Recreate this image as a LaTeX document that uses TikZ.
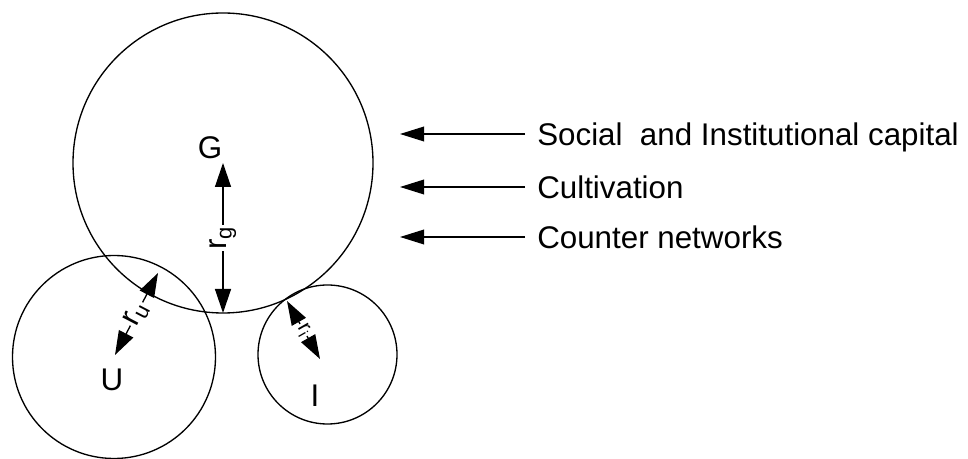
\documentclass[tikz,border=0pt]{standalone}
\usepackage{fontspec}
\setmainfont{Liberation Sans}
\usetikzlibrary{arrows.meta}
\tikzset{
	lbl/.style={inner sep=0pt, text height=16.8pt, text depth=0pt},
	radarrow/.style={{Triangle[length=18pt,width=12pt]}-{Triangle[length=18pt,width=12pt]}, line width=1pt},
	callarrow/.style={-{Triangle[length=18pt,width=11pt]}, line width=1pt},
	rlbl/.style={midway, fill=white, inner sep=1pt}
}
\begin{document}
\begin{tikzpicture}[x=0.75pt, y=-0.75pt, font=\fontsize{23.5}{28}\selectfont, line join=round]
			\useasboundingbox (0,0) rectangle (968,459);
			%	\draw[color=gray!50,dashed] (0,0) grid[step=50] (968,459);
			\coordinate (Gc) at (223,163);
			\coordinate (Uc) at (114,357);
			\coordinate (Ic) at (327.5,354.5);
			\draw[line width=1pt] (Gc) circle (150);
			\draw[line width=1pt] (Uc) circle (101.5);
			\draw[line width=1pt] (Ic) circle (69.5);
			\node[lbl] (G) at (210,147) {G};
			\node[lbl] (U) at (112,379) {U};
			\node[lbl] (I) at (315,395) {I};
			\coordinate (Gb) at (223,313);
			\draw[radarrow] (Gb) -- (Gc) node[rlbl, rotate=90]{r\textsubscript{g}};
			\coordinate (Ua) at (115,355);
			\coordinate (Ub) at (158,273);
			\draw[radarrow] (Ua) -- (Ub) node[rlbl, sloped]{r\textsubscript{u}};
			\coordinate (Ia) at (320,359);
			\coordinate (Ib) at (287,301);
			\draw[radarrow] (Ia) -- (Ib) node[rlbl, sloped, font=\fontsize{16}{18}\selectfont]{r\textsubscript{i}};
			\node[lbl, anchor=west, inner xsep=9pt] (social) at (525,134) {Social\ \ and Institutional capital};
			\node[lbl, anchor=west, inner xsep=9pt] (cult) at (525,187) {Cultivation};
			\node[lbl, anchor=west, inner xsep=9pt] (counter) at (525,237) {Counter networks};
			\coordinate (socialtip) at (400,134);
			\coordinate (culttip) at (400,187);
			\coordinate (countertip) at (400,237);
			\draw[callarrow] (social) -- (socialtip);
			\draw[callarrow] (cult) -- (culttip);
			\draw[callarrow] (counter) -- (countertip);
\end{tikzpicture}
\end{document}
